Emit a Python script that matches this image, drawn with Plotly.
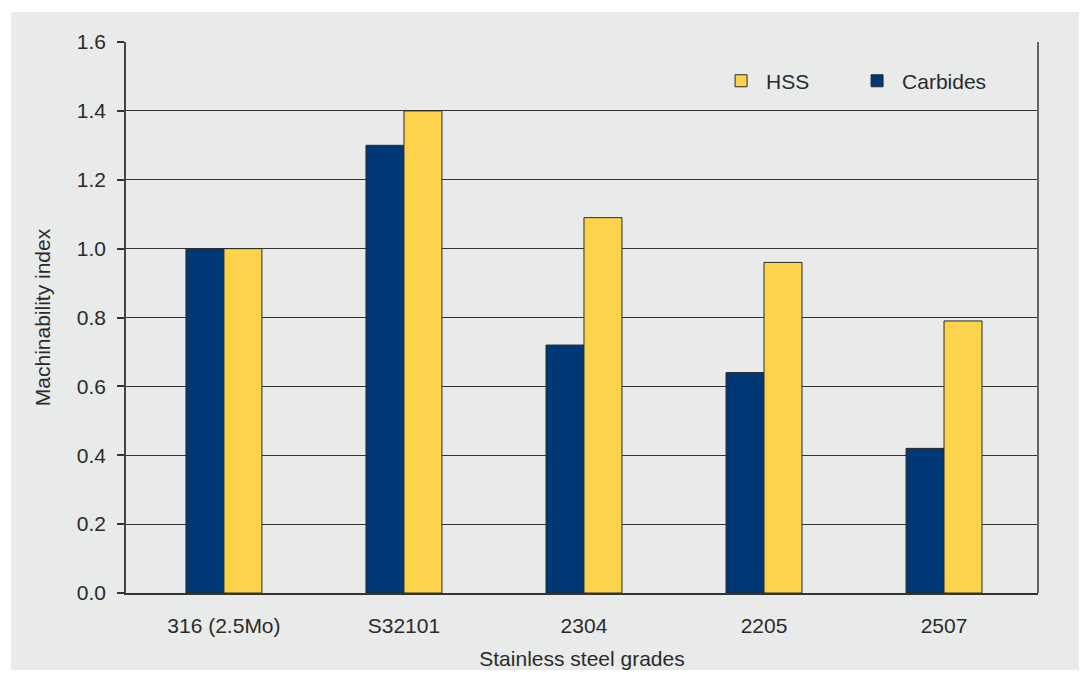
import plotly.graph_objects as go

grades = ['316 (2.5Mo)', 'S32101', '2304', '2205', '2507']
carbides = [1.00, 1.30, 0.72, 0.64, 0.42]
hss = [1.00, 1.40, 1.09, 0.96, 0.79]
y_ticks = [0.0, 0.2, 0.4, 0.6, 0.8, 1.0, 1.2, 1.4, 1.6]

BLUE = '#003876'
YELLOW = '#fed34c'
BG = '#e9eaea'
TXT = '#2b2b2b'
FONT = 'Liberation Sans'

fig = go.Figure(data=[
    go.Bar(name='Carbides', x=grades, y=carbides, marker_color=BLUE,
           marker_line=dict(color='#2a2a2a', width=1), legendrank=2),
    go.Bar(name='HSS', x=grades, y=hss, marker_color=YELLOW,
           marker_line=dict(color='#2a2a2a', width=1), legendrank=1)])

# grey panel behind the chart (white strip top/left like the source)
fig.add_shape(type='rect', xref='paper', yref='paper',
              x0=-0.1261, x1=1.1, y0=-0.3, y1=1.0544,
              fillcolor=BG, line_width=0, layer='below')

# page has an 8px body margin, so the figure is 16px smaller than the window
fig.update_layout(
    barmode='group',
    bargap=0.578,
    bargroupgap=0,
    width=1071, height=662,
    margin=dict(l=118, r=41, t=34, b=77),
    paper_bgcolor='white',
    plot_bgcolor='rgba(0,0,0,0)',
    font=dict(family=FONT, size=21, color=TXT),
    showlegend=True,
    legend=dict(orientation='h', x=0.647, y=0.929, xanchor='left', yanchor='middle',
                bgcolor='rgba(0,0,0,0)', font=dict(family=FONT, size=21, color=TXT),
                itemwidth=40, entrywidth=81),
)
fig.update_xaxes(
    type='category', range=[-0.544, 4.522], automargin=False,
    showline=True, linecolor='#333333', linewidth=1.5, mirror=False,
    ticks='', ticklabelstandoff=13,
    tickfont=dict(family=FONT, size=21, color=TXT),
    title=dict(text='Stainless steel grades', standoff=21,
               font=dict(family=FONT, size=21, color=TXT)),
    showgrid=False,
)
fig.update_yaxes(
    range=[0, 1.6], tickvals=y_ticks, tickformat='.1f', automargin=False,
    showline=True, linecolor='#444444', linewidth=1.5,
    ticks='outside', ticklen=7, tickcolor='#333333', tickwidth=1.5,
    ticklabelstandoff=7,
    tickfont=dict(family=FONT, size=21, color=TXT),
    showgrid=True, gridcolor='#333333', gridwidth=1.3,
    zeroline=False,
    title=dict(text='Machinability index', standoff=20,
               font=dict(family=FONT, size=21, color=TXT)),
)
# right edge frame line
fig.add_shape(type='line', xref='paper', yref='paper', x0=1, x1=1, y0=0, y1=1,
              line=dict(color='#666666', width=2))

fig.write_html("out.html")
